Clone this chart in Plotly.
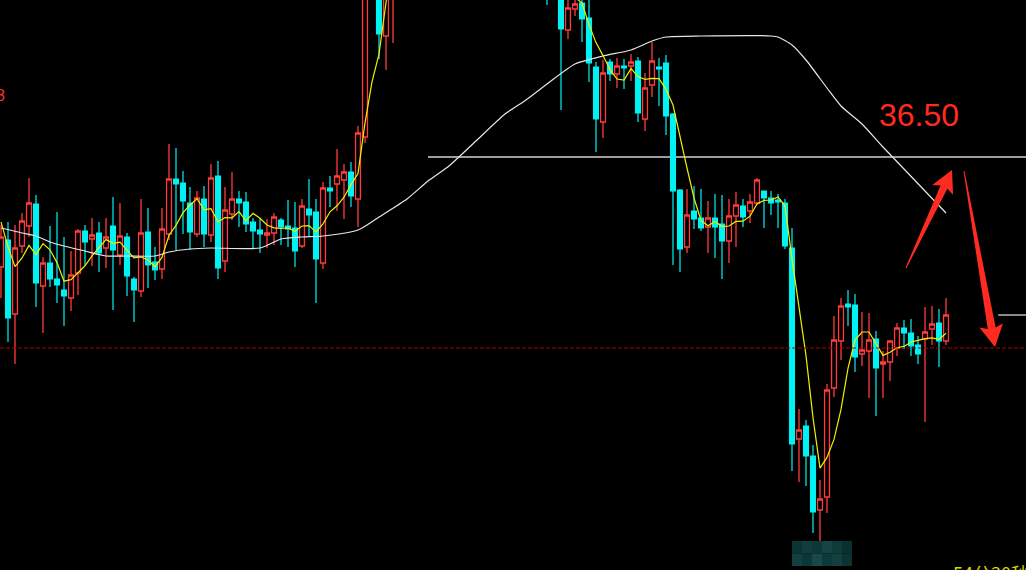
import math
import pandas as pd
import plotly.graph_objects as go

# ---------------- data (prices) ----------------
open_ = [35.40, 35.67, 34.93, 35.61, 35.81, 36.03, 35.21, 35.44, 35.28, 35.17,
         35.09, 35.34, 35.76, 35.68, 35.74, 35.59, 35.81, 35.52, 35.70, 35.28,
         35.16, 35.75, 35.45, 35.38, 35.73, 36.28, 36.24, 36.04, 35.73, 36.08,
         35.72, 36.31, 35.46, 35.93, 36.08, 36.05, 35.85, 35.77, 35.72, 35.74,
         35.87, 35.81, 35.79, 35.61, 35.98, 35.95, 35.44, 36.19, 36.23, 36.27,
         36.35, 36.08, 36.70, 38.67, 38.37, 37.71, 38.77, 39.12, 39.35, 39.57,
         39.79, 39.65, 39.92, 40.07, 39.97, 40.17, 40.27, 40.12, 40.02, 39.87,
         39.77, 39.67, 39.47, 39.37, 39.17, 39.07, 38.97, 38.87, 38.77, 38.27,
         38.47, 37.77, 37.98, 38.04, 37.89, 37.40, 36.85, 37.45, 37.33, 37.41,
         37.41, 37.46, 36.88, 37.22, 37.40, 37.44, 36.93, 36.17, 35.60, 35.96,
         35.89, 35.80, 35.89, 35.83, 35.66, 35.91, 36.01, 35.96, 36.04, 36.16,
         36.09, 36.07, 36.04, 35.59, 33.68, 33.81, 33.51, 32.97, 33.10, 34.19,
         34.66, 35.03, 35.02, 34.53, 34.56, 34.68, 34.43, 34.45, 34.59, 34.79,
         34.74, 34.62, 34.68, 34.78, 34.84, 34.66]
high = [35.82, 35.85, 35.82, 35.94, 36.29, 36.12, 35.50, 35.81, 35.95, 35.70,
        35.56, 35.78, 35.82, 35.89, 35.85, 35.89, 36.10, 36.04, 35.74, 35.30,
        36.08, 35.99, 35.60, 35.99, 36.63, 36.59, 36.36, 36.20, 36.16, 36.21,
        36.43, 36.46, 36.20, 36.35, 36.16, 36.15, 35.89, 35.89, 35.88, 35.94,
        35.89, 36.07, 36.05, 36.08, 36.28, 36.08, 36.25, 36.31, 36.58, 36.43,
        36.45, 36.81, 38.87, 38.82, 38.52, 39.02, 39.37, 39.57, 39.72, 39.97,
        39.92, 40.07, 40.27, 40.22, 40.32, 40.47, 40.42, 40.22, 40.12, 39.97,
        39.92, 39.77, 39.57, 39.47, 39.32, 39.22, 39.12, 39.02, 38.87, 38.67,
        38.67, 38.27, 38.17, 38.17, 38.12, 37.45, 37.47, 37.48, 37.49, 37.48,
        37.53, 37.50, 37.34, 37.65, 37.49, 37.52, 36.94, 36.18, 36.18, 36.21,
        36.18, 36.06, 36.13, 36.12, 36.08, 36.15, 36.08, 36.13, 36.29, 36.16,
        36.16, 36.13, 36.08, 35.79, 33.98, 33.87, 33.62, 33.27, 34.23, 34.91,
        35.09, 35.17, 35.13, 34.95, 34.94, 34.76, 34.56, 34.66, 34.84, 34.87,
        34.88, 34.71, 35.00, 35.01, 34.98, 35.09]
low = [35.09, 34.65, 34.43, 35.54, 35.70, 35.00, 34.74, 35.20, 35.04, 34.81,
       34.96, 35.12, 35.42, 35.41, 35.35, 35.39, 34.97, 35.42, 35.11, 34.85,
       35.10, 35.19, 35.27, 35.28, 35.67, 35.57, 35.73, 35.57, 35.70, 35.60,
       35.65, 35.28, 35.35, 35.87, 35.80, 35.75, 35.59, 35.54, 35.59, 35.62,
       35.62, 35.60, 35.40, 35.59, 35.70, 35.04, 35.38, 36.00, 35.96, 35.88,
       36.00, 35.80, 36.64, 38.12, 37.48, 37.37, 37.64, 38.97, 39.22, 39.47,
       39.57, 39.57, 39.82, 39.87, 39.87, 40.07, 40.02, 39.92, 39.77, 39.67,
       39.57, 39.37, 39.22, 39.07, 38.97, 38.82, 38.72, 38.62, 38.02, 38.12,
       36.97, 37.68, 37.91, 37.65, 37.25, 36.55, 36.69, 37.26, 37.19, 37.18,
       37.26, 36.85, 36.76, 37.10, 37.01, 36.72, 35.42, 35.35, 35.54, 35.78,
       35.76, 35.54, 35.49, 35.28, 35.44, 35.60, 35.80, 35.84, 36.02, 35.79,
       35.92, 35.79, 35.58, 33.36, 33.25, 33.21, 32.74, 32.66, 32.94, 34.10,
       34.47, 34.81, 34.35, 34.41, 34.09, 33.91, 34.09, 34.26, 34.51, 34.58,
       34.51, 34.43, 33.85, 34.62, 34.40, 34.62]
close = [35.70, 34.89, 35.59, 35.86, 36.04, 35.24, 35.44, 35.28, 35.22, 35.11,
         35.32, 35.76, 35.65, 35.72, 35.54, 35.70, 35.57, 35.71, 35.31, 35.17,
         35.74, 35.42, 35.37, 35.78, 36.28, 36.23, 36.06, 35.75, 36.09, 35.73,
         36.29, 35.39, 35.97, 36.08, 36.04, 35.83, 35.76, 35.73, 35.74, 35.90,
         35.80, 35.78, 35.56, 36.01, 35.92, 35.48, 36.19, 36.16, 36.31, 36.35,
         36.11, 36.74, 38.70, 38.36, 37.73, 38.83, 39.17, 39.37, 39.57, 39.77,
         39.67, 39.92, 40.07, 39.97, 40.17, 40.27, 40.12, 40.02, 39.87, 39.77,
         39.67, 39.47, 39.37, 39.17, 39.07, 38.97, 38.87, 38.77, 38.17, 38.52,
         37.78, 37.99, 38.03, 37.88, 37.44, 36.88, 37.34, 37.33, 37.41, 37.39,
         37.45, 36.94, 37.19, 37.46, 37.38, 36.91, 36.16, 35.58, 35.92, 35.88,
         35.79, 35.89, 35.80, 35.66, 35.91, 36.02, 35.90, 36.05, 36.27, 36.09,
         36.04, 36.05, 35.61, 33.63, 33.77, 33.51, 32.95, 33.08, 34.17, 34.67,
         35.01, 35.00, 34.50, 34.57, 34.67, 34.39, 34.45, 34.66, 34.79, 34.74,
         34.61, 34.53, 34.75, 34.83, 34.66, 34.92]
closes_before = [36.13, 36.59, 35.43, 35.41]

ma_long_idx = [0, 3, 5, 7, 9, 12, 15, 18, 22, 24, 27, 30, 37, 40, 43, 46, 51, 54, 58, 61,
               64, 68, 72, 75, 78, 82, 86, 90, 93, 95, 100, 110, 111, 113, 115, 118, 120,
               123, 126, 129, 132, 135]
ma_long_val = [35.79, 35.74, 35.71, 35.65, 35.61, 35.56, 35.51, 35.51, 35.51, 35.55, 35.58,
               35.59, 35.59, 35.68, 35.70, 35.71, 35.77, 35.90, 36.08, 36.26, 36.41, 36.67,
               36.93, 37.07, 37.23, 37.43, 37.51, 37.57, 37.66, 37.70, 37.71, 37.71, 37.70,
               37.62, 37.47, 37.19, 37.01, 36.83, 36.60, 36.38, 36.16, 35.94]

level_target = 36.50
level_short = 34.92
level_dashed = 34.59
target_label = "36.50"
timer_label = "54分30秒"
edge_label = "8"

# ---------------- geometry helpers ----------------
W, H = 1026, 570
idx = list(range(len(close)))
x_range = [-1 / 7, (W - 1) / 7]
y_range = [32.37, 38.07]

def to_paper(px, py):
    return px / W, 1 - py / H

def arrow_path(tail, tip, tail_w, shaft_w, head_len, head_hw, notch=3):
    tx, ty = tail
    px, py = tip
    L = math.hypot(px - tx, py - ty)
    ux, uy = (px - tx) / L, (py - ty) / L
    nx, ny = -uy, ux
    bx, by = px - ux * head_len, py - uy * head_len
    jx, jy = bx + ux * notch, by + uy * notch
    pts = [
        (tx + nx * tail_w / 2, ty + ny * tail_w / 2),
        (jx + nx * shaft_w / 2, jy + ny * shaft_w / 2),
        (bx + nx * head_hw, by + ny * head_hw),
        (px, py),
        (bx - nx * head_hw, by - ny * head_hw),
        (jx - nx * shaft_w / 2, jy - ny * shaft_w / 2),
        (tx - nx * tail_w / 2, ty - ny * tail_w / 2),
    ]
    pp = [to_paper(a, b) for a, b in pts]
    return "M " + " L ".join(f"{a:.5f},{b:.5f}" for a, b in pp) + " Z"

# ---------------- figure ----------------
ma5 = pd.Series(closes_before + close).rolling(5).mean().tolist()[len(closes_before):]

RED = "#ff3b3b"
CYAN = "#00f2f2"

fig = go.Figure()
fig.add_trace(go.Candlestick(
    x=idx, open=open_, high=high, low=low, close=close,
    increasing=dict(line=dict(color=RED, width=1.3), fillcolor="black"),
    decreasing=dict(line=dict(color=CYAN, width=1.2), fillcolor=CYAN),
    whiskerwidth=0, hoverinfo="skip", showlegend=False,
))
fig.add_trace(go.Scatter(x=idx, y=ma5, mode="lines",
                         line=dict(color="#f0f000", width=1.2), hoverinfo="skip"))
fig.add_trace(go.Scatter(x=ma_long_idx, y=ma_long_val, mode="lines",
                         line=dict(color="#e6e6e6", width=1.2, shape="spline", smoothing=0.6),
                         hoverinfo="skip"))

shapes = [
    dict(type="line", xref="x", yref="y", x0=61, x1=x_range[1], y0=level_target, y1=level_target,
         line=dict(color="#d2d2d2", width=1.3), layer="below"),
    dict(type="line", xref="x", yref="y", x0=142.45, x1=x_range[1], y0=level_short, y1=level_short,
         line=dict(color="#d2d2d2", width=1.3)),
    dict(type="line", xref="paper", yref="y", x0=0, x1=1, y0=level_dashed, y1=level_dashed,
         line=dict(color="#b00000", width=1, dash="4px,2px")),
    dict(type="path", xref="paper", yref="paper",
         path=arrow_path((906, 268), (952, 170), 1.0, 7.5, 22, 11.5),
         fillcolor="#ff2a20", line=dict(width=0)),
    dict(type="path", xref="paper", yref="paper",
         path=arrow_path((964, 171), (995, 347), 1.0, 8, 22, 12),
         fillcolor="#ff2a20", line=dict(width=0)),
]
# pixelated blur box at bottom
blur_cols = ["#0c3434", "#113d3d", "#0e3838", "#164444", "#0f3a3a", "#0b3030",
             "#123f3f", "#0d3636", "#184848", "#0f3939", "#143f3f", "#0c3232"]
bx0, by0, bw, bh = 792, 541, 10, 12.5
for r in range(2):
    for c in range(6):
        x0p, y0p = to_paper(bx0 + c * bw, by0 + r * bh)
        x1p, y1p = to_paper(bx0 + (c + 1) * bw, by0 + (r + 1) * bh)
        shapes.append(dict(type="rect", xref="paper", yref="paper", x0=x0p, x1=x1p, y0=y1p, y1=y0p,
                           fillcolor=blur_cols[r * 6 + c], line=dict(width=0)))

annotations = [
    dict(text=target_label, xref="paper", yref="paper", x=919 / W, y=1 - 115 / H,
         xanchor="center", yanchor="middle", showarrow=False,
         font=dict(family="Arial, Liberation Sans, sans-serif", size=32, color="#ff2a20")),
    dict(text=edge_label, xref="paper", yref="paper", x=7 / W, y=1 - 96 / H,
         xanchor="right", yanchor="middle", showarrow=False,
         font=dict(family="Arial, Liberation Sans, sans-serif", size=16, color="#ff3030")),
    dict(text=timer_label, xref="paper", yref="paper", x=951 / W, y=1 - 558 / H,
         xanchor="left", yanchor="top", showarrow=False,
         font=dict(family="Noto Sans CJK SC, sans-serif", size=18, color="#d8d800")),
]

fig.update_layout(
    width=W, height=H,
    margin=dict(l=0, r=0, t=0, b=0, pad=0),
    paper_bgcolor="black", plot_bgcolor="black",
    showlegend=False, boxgap=0.3, boxgroupgap=0,
    xaxis=dict(visible=False, range=x_range, rangeslider=dict(visible=False), fixedrange=True),
    yaxis=dict(visible=False, range=y_range, fixedrange=True),
    shapes=shapes, annotations=annotations,
)

fig.write_html(
    "out.html",
    config={"displayModeBar": False},
    post_script="document.body.style.margin='0';document.body.style.background='black';document.body.style.overflow='hidden';",
)
